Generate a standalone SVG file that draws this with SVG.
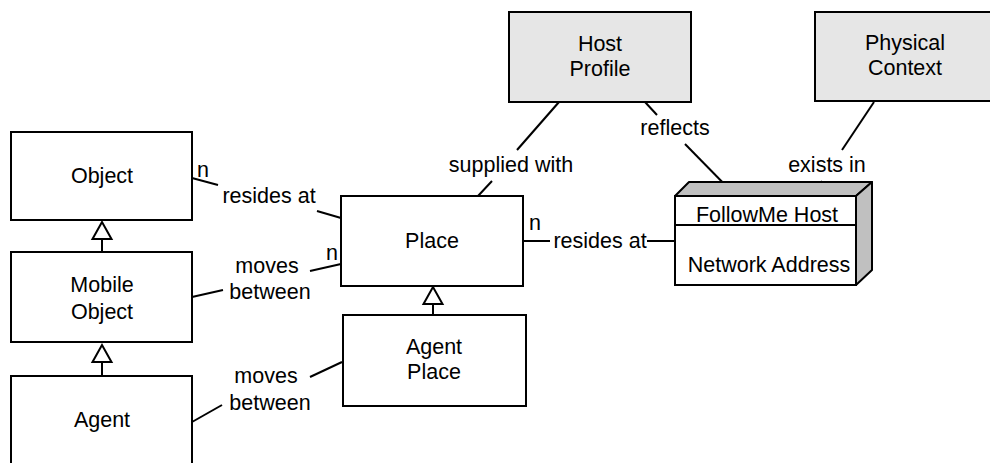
<svg xmlns="http://www.w3.org/2000/svg" width="990" height="463" viewBox="0 0 990 463">
<style>
text{font-family:"Liberation Sans",Arial,sans-serif;font-size:21.5px;fill:#000;text-anchor:middle}
.box{fill:#fff;stroke:#000;stroke-width:2}
.gbox{fill:#e6e6e6;stroke:#000;stroke-width:2}
.face{fill:#c0c0c0;stroke:#000;stroke-width:2;stroke-linejoin:round}
.ln{stroke:#000;stroke-width:2;fill:none}
.tri{fill:#fff;stroke:#000;stroke-width:2;stroke-linejoin:miter}
</style>
<rect width="990" height="463" fill="#fff"/>
<g id="connectors">
  <line class="ln" x1="192" y1="178" x2="218" y2="185"/>
  <line class="ln" x1="317" y1="211" x2="341" y2="218"/>
  <text x="203" y="177">n</text>
  <text x="269" y="203">resides at</text>
  <line class="ln" x1="192" y1="297" x2="223" y2="290"/>
  <line class="ln" x1="310" y1="271" x2="341" y2="264"/>
  <text x="332" y="260">n</text>
  <text x="267" y="273">moves</text>
  <text x="270" y="299">between</text>
  <line class="ln" x1="192" y1="422" x2="222" y2="405"/>
  <line class="ln" x1="310" y1="377" x2="342" y2="362"/>
  <text x="266" y="383">moves</text>
  <text x="270" y="410">between</text>
  <line class="ln" x1="478" y1="196" x2="492" y2="181"/>
  <line class="ln" x1="517" y1="150" x2="559" y2="102"/>
  <text x="511" y="172">supplied with</text>
  <line class="ln" x1="523" y1="241" x2="550" y2="241"/>
  <line class="ln" x1="647" y1="241" x2="675" y2="241"/>
  <text x="535" y="230">n</text>
  <text x="600" y="248">resides at</text>
  <line class="ln" x1="645" y1="102" x2="657" y2="115"/>
  <line class="ln" x1="685" y1="144" x2="735" y2="195"/>
  <text x="675" y="135">reflects</text>
  <line class="ln" x1="874" y1="102" x2="842" y2="150"/>
  <line class="ln" x1="822" y1="181" x2="812" y2="195"/>
  <text x="827" y="172">exists in</text>
  <line class="ln" x1="102" y1="239" x2="102" y2="252"/>
  <polygon class="tri" points="102,222 92.5,239 111.5,239"/>
  <line class="ln" x1="102" y1="362" x2="102" y2="376"/>
  <polygon class="tri" points="102,345 92.5,362 111.5,362"/>
  <line class="ln" x1="433" y1="304" x2="433" y2="315"/>
  <polygon class="tri" points="433,287 423.5,304 442.5,304"/>
</g>
<g id="object">
  <rect class="box" x="11" y="132" width="181" height="88"/>
  <text x="102" y="183">Object</text>
</g>
<g id="mobile-object">
  <rect class="box" x="11" y="252" width="181" height="90"/>
  <text x="102" y="292">Mobile</text>
  <text x="102" y="319">Object</text>
</g>
<g id="agent">
  <rect class="box" x="11" y="376" width="181" height="100"/>
  <text x="102" y="427">Agent</text>
</g>
<g id="place">
  <rect class="box" x="341" y="196" width="182" height="90"/>
  <text x="432" y="248">Place</text>
</g>
<g id="agent-place">
  <rect class="box" x="343" y="315" width="183" height="91"/>
  <text x="434" y="354">Agent</text>
  <text x="434" y="379">Place</text>
</g>
<g id="host-profile">
  <rect class="gbox" x="509" y="12" width="182" height="90"/>
  <text x="600" y="51">Host</text>
  <text x="600" y="76">Profile</text>
</g>
<g id="physical-context">
  <rect class="gbox" x="815" y="12" width="182" height="89"/>
  <text x="905" y="50">Physical</text>
  <text x="905" y="75">Context</text>
</g>
<g id="followme-host">
  <polygon class="face" points="675,196 689,182 872,182 856,196"/>
  <polygon class="face" points="856,196 872,182 872,270 856,285"/>
  <rect class="box" x="675" y="196" width="181" height="89"/>
  <line class="ln" x1="675" y1="225" x2="856" y2="225"/>
  <text x="767" y="222">FollowMe Host</text>
  <text x="769" y="272">Network Address</text>
</g>
</svg>
